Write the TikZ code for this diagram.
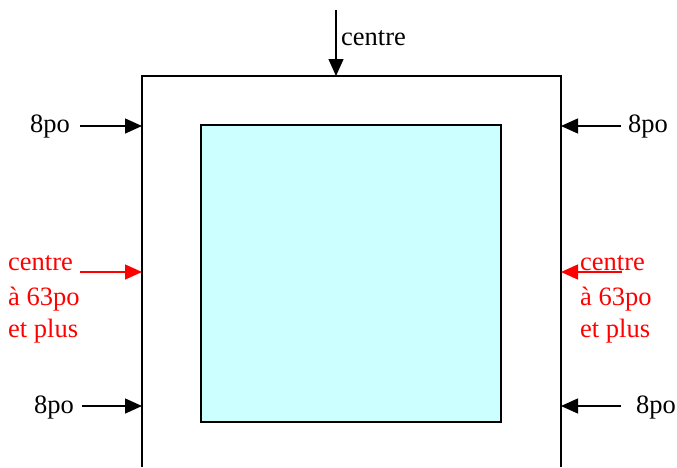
\documentclass[tikz,border=0pt]{standalone}
\usepackage{fontspec}
\setmainfont{Liberation Serif}
\usetikzlibrary{arrows.meta}
\definecolor{cyanpale}{HTML}{CCFFFF}
\begin{document}
\begin{tikzpicture}[x=1pt, y=-1pt, line join=miter, >={Triangle[length=17pt,width=15pt]},
    cote/.style={->, line width=1.3pt},
    lbl/.style={inner sep=0pt, font=\fontsize{26.5}{33.5}\selectfont},
    rouge/.style={red, text=red}]
    \useasboundingbox (0,0) rectangle (677,467);
    \def\xg{142} \def\xd{561} \def\yh{76} % bords du cadre
    % cadre et zone interieure
    \draw[line width=1.3pt] (\xg,467) -- (\xg,\yh) -- (\xd,\yh) -- (\xd,467);
    \draw[line width=1.3pt, fill=cyanpale] (201,125) rectangle (501,422);
    % coordonnees sur le cadre
    \coordinate (haut) at (336,\yh);
    \coordinate (g1) at (\xg,126); \coordinate (g2) at (\xg,272); \coordinate (g3) at (\xg,406);
    \coordinate (d1) at (\xd,126); \coordinate (d2) at (\xd,272); \coordinate (d3) at (\xd,406);
    \coordinate (hautdep) at (336,10);
    \coordinate (gd1) at (80,126); \coordinate (gd2) at (80,272); \coordinate (gd3) at (82,406);
    \coordinate (dd1) at (621,126); \coordinate (dd2) at (622,272); \coordinate (dd3) at (621,406);
    % textes
    \node[lbl, anchor=west] (centre) at (341,38) {centre};
    \node[lbl] (g8a) at (50,127) {8po};
    \node[lbl] (g8b) at (54,407) {8po};
    \node[lbl] (d8a) at (648,127) {8po};
    \node[lbl] (d8b) at (656,407) {8po};
    \node[lbl, rouge, anchor=base west] (gtxt) at (8,270) {centre};
    \node[lbl, rouge, anchor=base west] at (8,305) {à 63po};
    \node[lbl, rouge, anchor=base west] at (8,337) {et plus};
    \node[lbl, rouge, anchor=base west] (dtxt) at (580,270) {centre};
    \node[lbl, rouge, anchor=base west] at (580,305) {à 63po};
    \node[lbl, rouge, anchor=base west] at (580,337) {et plus};
    % fleches
    \draw[cote] (hautdep) -- (haut);
    \draw[cote] (gd1) -- (g1);
    \draw[cote] (gd3) -- (g3);
    \draw[cote] (dd1) -- (d1);
    \draw[cote] (dd3) -- (d3);
    \draw[cote, rouge] (gd2) -- (g2);
    \draw[cote, rouge] (dd2) -- (d2);
\end{tikzpicture}
\end{document}
